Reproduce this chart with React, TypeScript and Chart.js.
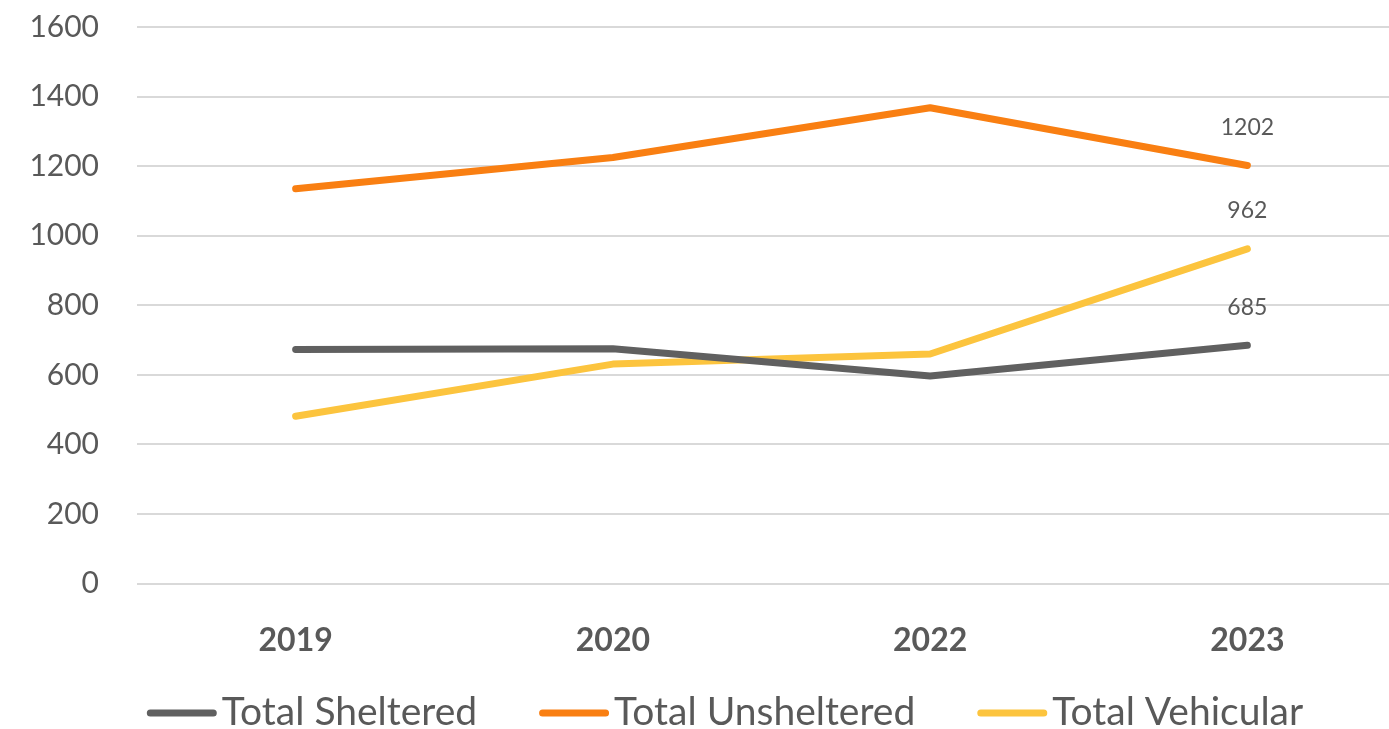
import React, { useEffect, useRef } from "react";
import { Chart, registerables } from "chart.js";

Chart.register(...registerables);

const categories = ["2019", "2020", "2022", "2023"];
const sheltered = [673, 675, 597, 685];
const unsheltered = [1135, 1225, 1368, 1202];
const vehicular = [481, 631, 660, 962];
const seriesNames = ["Total Sheltered", "Total Unsheltered", "Total Vehicular"];
const yTicks = [0, 200, 400, 600, 800, 1000, 1200, 1400, 1600];

const COLORS = ["#606060", "#F97F12", "#FCC43E"];
const TEXT = "#595959";
const FONT = "Lato, 'Noto Sans', sans-serif";

const lastLabelPlugin = {
  id: "lastLabel",
  afterDatasetsDraw(chart: any) {
    const ctx = chart.ctx;
    ctx.save();
    ctx.font = `23px ${FONT}`;
    ctx.fillStyle = TEXT;
    ctx.textAlign = "center";
    ctx.textBaseline = "middle";
    chart.data.datasets.forEach((ds: any, i: number) => {
      const meta = chart.getDatasetMeta(i);
      const idx = ds.data.length - 1;
      const pt = meta.data[idx];
      if (!pt) return;
      ctx.fillText(String(ds.data[idx]), pt.x, pt.y - 38);
    });
    ctx.restore();
  },
};

const legendPlugin = {
  id: "customLegend",
  afterDraw(chart: any) {
    const ctx = chart.ctx;
    ctx.save();
    ctx.font = `39px ${FONT}`;
    const markerW = 70;
    const gap = 5;
    const itemGap = 62;
    const items = chart.data.datasets.map((ds: any) => ({
      text: ds.label,
      color: ds.borderColor,
      w: ctx.measureText(ds.label).width,
    }));
    const total =
      items.reduce((a: number, it: any) => a + markerW + gap + it.w, 0) +
      itemGap * (items.length - 1);
    let x = 725 - total / 2;
    const yMark = 713;
    const yText = 725;
    items.forEach((it: any) => {
      ctx.strokeStyle = it.color;
      ctx.lineWidth = 7;
      ctx.lineCap = "round";
      ctx.beginPath();
      ctx.moveTo(x + 3.5, yMark);
      ctx.lineTo(x + markerW - 3.5, yMark);
      ctx.stroke();
      ctx.fillStyle = TEXT;
      ctx.textAlign = "left";
      ctx.textBaseline = "alphabetic";
      ctx.fillText(it.text, x + markerW + gap, yText);
      x += markerW + gap + it.w + itemGap;
    });
    ctx.restore();
  },
};

export default function App() {
  const ref = useRef<HTMLCanvasElement>(null);
  useEffect(() => {
    if (!ref.current) return;
    const mk = (label: string, data: number[], color: string) => ({
      label,
      data,
      borderColor: color,
      backgroundColor: color,
      borderWidth: 7,
      borderCapStyle: "round" as const,
      borderJoinStyle: "round" as const,
      pointRadius: 0,
      pointHoverRadius: 0,
      tension: 0,
      fill: false,
    });
    const chart = new Chart(ref.current, {
      type: "line",
      data: {
        labels: categories,
        datasets: [
          mk(seriesNames[0], sheltered, COLORS[0]),
          mk(seriesNames[1], unsheltered, COLORS[1]),
          mk(seriesNames[2], vehicular, COLORS[2]),
        ],
      },
      options: {
        animation: false,
        responsive: true,
        maintainAspectRatio: false,
        layout: { padding: { top: 27, right: 0, left: 0, bottom: 31 } },
        plugins: {
          tooltip: { enabled: false },
          legend: { display: false },
        },
        scales: {
          x: {
            offset: true,
            grid: { display: false, drawTicks: false },
            border: { display: false },
            ticks: {
              font: { family: FONT, size: 32, weight: "bold" },
              color: TEXT,
              padding: 38,
            },
          },
          y: {
            min: 0,
            max: 1600,
            afterBuildTicks: (s: any) => {
              s.ticks = yTicks.map((v) => ({ value: v }));
            },
            afterFit: (s: any) => {
              s.width = 137;
            },
            grid: {
              color: "#D9D9D9",
              lineWidth: 2,
              drawTicks: true,
              tickLength: 35,
              tickColor: "rgba(0,0,0,0)",
            },
            border: { display: false },
            ticks: {
              font: { family: FONT, size: 30 },
              color: TEXT,
              padding: 3,
              callback: (v: any) => String(v),
            },
          },
        },
      },
      plugins: [lastLabelPlugin, legendPlugin],
    });
    return () => chart.destroy();
  }, []);
  return (
    <div style={{ position: "fixed", left: 0, top: 0, width: 1389, height: 729, overflow: "hidden", background: "#fff" }}>
      <div style={{ position: "relative", width: 1406, height: 729 }}>
        <canvas ref={ref} />
      </div>
    </div>
  );
}
